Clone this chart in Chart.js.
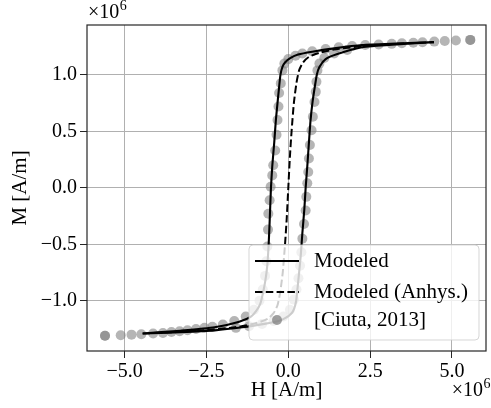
<!DOCTYPE html>
<html>
<head>
<meta charset="utf-8">
<script src="https://cdn.jsdelivr.net/npm/chart.js@4.4.1/dist/chart.umd.min.js"></script>
<style>
html,body{margin:0;padding:0;background:#fff;}
#c{display:block;}
</style>
</head>
<body>
<canvas id="c" width="491" height="408"></canvas>
<script>
// ---- data (units of 1e6 A/m) ----
const descH = [4.45, 3.3, 2.25, 1.4, 0.73, 0.3, 0.07, -0.1, -0.18, -0.24, -0.28, -0.33, -0.38, -0.43, -0.49, -0.53, -0.57, -0.6, -0.64, -0.7, -0.78, -0.86, -0.98, -1.14, -1.5, -2.25, -3.3, -4.45];
const descM = [1.29, 1.278, 1.265, 1.235, 1.205, 1.18, 1.15, 1.11, 1.07, 1.0, 0.895, 0.75, 0.6, 0.4, 0.19, 0.0, -0.3, -0.5, -0.68, -0.82, -0.94, -1.03, -1.09, -1.14, -1.185, -1.235, -1.265, -1.29];
const ascH = [-4.45, -3.3, -2.25, -1.4, -0.73, -0.3, -0.07, 0.1, 0.18, 0.24, 0.28, 0.33, 0.38, 0.43, 0.49, 0.53, 0.58, 0.63, 0.68, 0.74, 0.81, 0.87, 0.95, 1.14, 1.5, 2.25, 3.3, 4.45];
const ascM = [-1.29, -1.278, -1.262, -1.235, -1.205, -1.18, -1.15, -1.11, -1.07, -1.0, -0.895, -0.75, -0.6, -0.4, -0.19, 0.0, 0.19, 0.4, 0.6, 0.76, 0.895, 1.0, 1.07, 1.14, 1.185, 1.245, 1.27, 1.29];
const anhH = [-4.45, -3.5, -2.5, -1.5, -1.0, -0.63, -0.45, -0.33, -0.25, -0.17, -0.1, -0.05, 0, 0.05, 0.1, 0.17, 0.25, 0.33, 0.45, 0.63, 1.0, 1.5, 2.5, 3.5, 4.45];
const anhM = [-1.29, -1.278, -1.26, -1.23, -1.2, -1.16, -1.11, -1.04, -0.93, -0.75, -0.5, -0.28, 0, 0.28, 0.5, 0.75, 0.93, 1.04, 1.11, 1.16, 1.2, 1.23, 1.26, 1.278, 1.29];
const ciutaDescH = [5.56, 5.12, 4.78, 4.46, 4.1, 3.82, 3.47, 3.16, 2.76, 2.35, 1.95, 1.54, 1.14, 0.73, 0.43, 0.22, 0.0, -0.12, -0.18, -0.23, -0.28, -0.3, -0.33, -0.36, -0.4, -0.46, -0.49, -0.54, -0.57, -0.61, -0.62, -0.64, -0.67, -0.71, -0.78, -0.88, -1.05, -1.3, -1.65, -2.0, -2.32, -2.56, -2.82, -3.08, -3.32, -3.57, -3.83, -4.13, -4.49, -4.79, -5.12, -5.6];
const ciutaDescM = [1.31, 1.305, 1.3, 1.295, 1.29, 1.285, 1.28, 1.275, 1.27, 1.265, 1.255, 1.245, 1.23, 1.21, 1.19, 1.17, 1.14, 1.1, 1.04, 0.925, 0.84, 0.72, 0.6, 0.47, 0.33, 0.2, 0.11, 0.01, -0.11, -0.23, -0.37, -0.52, -0.65, -0.78, -0.9, -1.0, -1.08, -1.14, -1.18, -1.21, -1.23, -1.24, -1.25, -1.262, -1.27, -1.277, -1.285, -1.29, -1.297, -1.3, -1.305, -1.31];
const ciutaAscH = [-5.6, -1.6, -1.2, -0.8, -0.45, -0.15, 0.05, 0.17, 0.25, 0.31, 0.36, 0.4, 0.43, 0.48, 0.53, 0.55, 0.58, 0.61, 0.63, 0.66, 0.71, 0.75, 0.8, 0.84, 0.86, 0.89, 0.95, 1.1, 1.4, 1.8, 5.56];
const ciutaAscM = [-1.31, -1.24, -1.225, -1.205, -1.18, -1.14, -1.08, -0.99, -0.9, -0.8, -0.69, -0.57, -0.45, -0.32, -0.2, -0.08, 0.04, 0.14, 0.26, 0.38, 0.51, 0.63, 0.76, 0.85, 0.94, 1.04, 1.1, 1.15, 1.19, 1.22, 1.31];
const xTicks = [-5.0, -2.5, 0.0, 2.5, 5.0];
const yTicks = [-1.0, -0.5, 0.0, 0.5, 1.0];
const labels = ['Modeled', 'Modeled (Anhys.)', '[Ciuta, 2013]'];

const pts = (xs, ys) => xs.map((x, i) => ({x: x, y: ys[i]}));
const FONT = "'Liberation Serif', 'Times New Roman', serif";
const fmt = v => (v < 0 ? '\u2212' : '') + Math.abs(v).toFixed(1);

const legendPlugin = {
  id: 'mplLegend',
  afterDatasetsDraw(chart) {
    const {ctx, chartArea: a} = chart;
    const w = 230, h = 95;
    const x0 = a.right - 7 - w, y0 = a.bottom - 11 - h;
    ctx.save();
    ctx.beginPath();
    ctx.roundRect(x0, y0, w, h, 4);
    ctx.fillStyle = 'rgba(255,255,255,0.8)';
    ctx.fill();
    ctx.strokeStyle = 'rgba(204,204,204,0.8)';
    ctx.lineWidth = 1;
    ctx.stroke();
    const rows = [y0 + 16, y0 + 47, y0 + 75];
    const hx0 = x0 + 6, hx1 = x0 + 50, tx = x0 + 65;
    ctx.strokeStyle = '#000';
    ctx.lineWidth = 2;
    ctx.beginPath(); ctx.moveTo(hx0, rows[0]); ctx.lineTo(hx1, rows[0]); ctx.stroke();
    ctx.setLineDash([7.5, 3.3]);
    ctx.beginPath(); ctx.moveTo(hx0, rows[1]); ctx.lineTo(hx1, rows[1]); ctx.stroke();
    ctx.setLineDash([]);
    ctx.fillStyle = 'rgba(128,128,128,0.75)';
    ctx.beginPath(); ctx.arc((hx0 + hx1) / 2, rows[2], 5, 0, Math.PI * 2); ctx.fill();
    ctx.fillStyle = '#000';
    ctx.font = '21px ' + FONT;
    ctx.textBaseline = 'middle';
    ctx.textAlign = 'left';
    labels.forEach((t, i) => ctx.fillText(t, tx, rows[i]));
    ctx.restore();
  },
  afterDraw(chart) {
    const {ctx, chartArea: a} = chart;
    ctx.save();
    ctx.strokeStyle = '#262626';
    ctx.lineWidth = 1.2;
    ctx.strokeRect(a.left, a.top, a.right - a.left, a.bottom - a.top);
    const drawExp = (x, y, align) => {
      ctx.font = '20px ' + FONT;
      const w1 = ctx.measureText('\u00d710').width;
      ctx.font = '14px ' + FONT;
      const w2 = ctx.measureText('6').width;
      const sx = align === 'right' ? x - w1 - w2 : x;
      ctx.fillStyle = '#000';
      ctx.textBaseline = 'alphabetic';
      ctx.textAlign = 'left';
      ctx.font = '20px ' + FONT;
      ctx.fillText('\u00d710', sx, y);
      ctx.font = '14px ' + FONT;
      ctx.fillText('6', sx + w1 + 0.5, y - 8);
    };
    drawExp(a.left + 1, a.top - 7, 'left');
    drawExp(chart.width - 1, chart.height - 12, 'right');
    ctx.restore();
  }
};

new Chart(document.getElementById('c'), {
  type: 'scatter',
  data: {
    datasets: [
      {
        label: labels[0],
        data: pts(descH.concat(ascH), descM.concat(ascM)),
        showLine: true, borderColor: '#000', borderWidth: 2.1,
        pointRadius: 0, tension: 0.2, order: 1
      },
      {
        label: labels[1],
        data: pts(anhH, anhM),
        showLine: true, borderColor: '#000', borderWidth: 2.0, borderDash: [7.5, 3.3],
        pointRadius: 0, tension: 0.2, order: 2
      },
      {
        label: labels[2],
        data: pts(ciutaDescH.concat(ciutaAscH), ciutaDescM.concat(ciutaAscM)),
        showLine: false, pointRadius: 5, pointBorderWidth: 0,
        backgroundColor: 'rgba(128,128,128,0.58)', borderColor: 'rgba(0,0,0,0)', order: 3
      }
    ]
  },
  options: {
    responsive: false,
    animation: false,
    devicePixelRatio: 1,
    layout: {padding: {top: 25, right: 3, left: 0, bottom: 0}},
    plugins: {legend: {display: false}, tooltip: {enabled: false}},
    scales: {
      x: {
        type: 'linear', min: -6.15, max: 6.04,
        afterBuildTicks: s => { s.ticks = xTicks.map(v => ({value: v})); },
        afterFit: s => { s.height = 57; },
        grid: {color: '#b0b0b0', lineWidth: 1, tickLength: 7, tickColor: '#262626', drawTicks: true},
        border: {display: false},
        ticks: {callback: v => fmt(v), color: '#000', font: {family: FONT, size: 20}, padding: 2, maxRotation: 0, autoSkip: false},
        title: {display: true, text: 'H [A/m]', color: '#000', font: {family: FONT, size: 21}, padding: {top: 0, bottom: 5}}
      },
      y: {
        type: 'linear', min: -1.445, max: 1.442,
        afterBuildTicks: s => { s.ticks = yTicks.map(v => ({value: v})); },
        afterFit: s => { s.width = 87; },
        grid: {color: '#b0b0b0', lineWidth: 1, tickLength: 7, tickColor: '#262626', drawTicks: true},
        border: {display: false},
        ticks: {callback: v => fmt(v), color: '#000', font: {family: FONT, size: 20}, padding: 3, autoSkip: false},
        title: {display: true, text: 'M [A/m]', color: '#000', font: {family: FONT, size: 21}, padding: {top: 8, bottom: 0}}
      }
    }
  },
  plugins: [legendPlugin]
});
</script>
</body>
</html>
